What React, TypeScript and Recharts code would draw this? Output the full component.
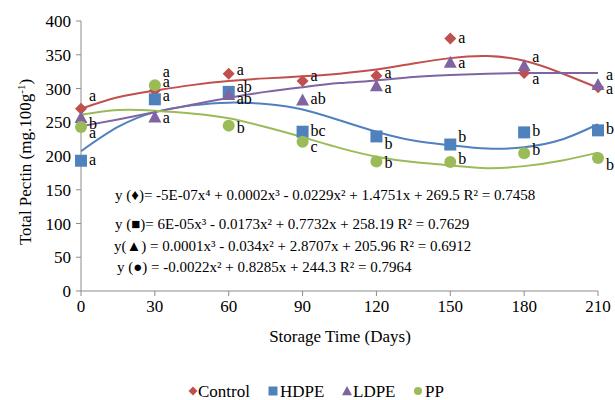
import { ComposedChart, Line, Scatter, XAxis, YAxis } from 'recharts';

// observed means (mg/100g) at each sampling day
const days = [0, 30, 60, 90, 120, 150, 180, 210];
const control = [270, 297, 322, 311, 319, 374, 323, 302];
const hdpe = [193, 284, 295, 236, 229, 217, 235, 238];
const ldpe = [257, 258, 291, 283, 304, 339, 334, 306];
const pp = [243, 305, 245, 221, 192, 191, 204, 197];

// significance letters
const controlSig = ['a', 'a', 'a', 'a', 'a', 'a', 'a', 'a'];
const hdpeSig = ['a', 'a', 'ab', 'bc', 'b', 'b', 'b', 'b'];
const ldpeSig = ['b', 'a', 'ab', 'ab', 'a', 'a', 'a', 'a'];
const ppSig = ['a', 'a', 'b', 'c', 'b', 'b', 'b', 'b'];

// trendline curves
const trendDays = [0, 15, 30, 45, 60, 75, 90, 105, 120, 135, 150, 165, 180, 195, 210];
const controlTrend = [270, 287, 297, 305, 311, 315, 318, 322, 328, 337, 345, 348, 341, 323, 301];
const hdpeTrend = [207, 243, 265, 275, 279, 277, 269, 253, 236, 223, 216, 211, 213, 224, 247];
const ldpeTrend = [244, 254, 265, 276, 286, 295, 302, 308, 312, 317, 320, 322, 323, 323, 323];
const ppTrend = [261, 268, 267, 263, 256, 243, 228, 212, 199, 191, 186, 182, 185, 193, 205];

const xTicks = [0, 30, 60, 90, 120, 150, 180, 210];
const yTicks = [0, 50, 100, 150, 200, 250, 300, 350, 400];

const equations = [
  'y (\u2666)= -5E-07x\u2074 + 0.0002x\u00B3 - 0.0229x\u00B2 + 1.4751x + 269.5  R\u00B2 = 0.7458',
  'y (\u25A0)= 6E-05x\u00B3 - 0.0173x\u00B2 + 0.7732x + 258.19  R\u00B2 = 0.7629',
  'y(\u25B2) = 0.0001x\u00B3 - 0.034x\u00B2 + 2.8707x + 205.96  R\u00B2 = 0.6912',
  'y (\u25CF) = -0.0022x\u00B2 + 0.8285x + 244.3  R\u00B2 = 0.7964',
];

const FONT = 'Liberation Serif';
const RED = '#C0504D';
const BLUE = '#4F81BD';
const PURPLE = '#8064A2';
const GREEN = '#9BBB59';

// how far each letter sits above/below its marker, as placed in the original
const NUDGE: Record<string, number[]> = {
  control: [-12, -18, -3, -4, -2, 0, 7, 3],
  hdpe: [0, -2, -4, 0, 9, -7, 0, 0],
  ldpe: [7, 2, 5, 0, 3, 2, -8, -8],
  pp: [7, -2, 3, 6, 3, -2, -2, 8],
};

const points = (vals: number[], sig: string[]) => vals.map((y, i) => ({ x: days[i], y, sig: sig[i], i }));
const trendRows = trendDays.map((x, i) => ({
  x,
  control: controlTrend[i],
  hdpe: hdpeTrend[i],
  ldpe: ldpeTrend[i],
  pp: ppTrend[i],
}));

function marker(kind: string, cx: number, cy: number, s: number, color: string) {
  if (kind === 'diamond')
    return <polygon points={`${cx},${cy - s} ${cx + s},${cy} ${cx},${cy + s} ${cx - s},${cy}`} fill={color} />;
  if (kind === 'square') return <rect x={cx - s} y={cy - s} width={s * 2} height={s * 2} fill={color} />;
  if (kind === 'triangle')
    return <polygon points={`${cx},${cy - s} ${cx + s},${cy + s * 0.85} ${cx - s},${cy + s * 0.85}`} fill={color} />;
  return <circle cx={cx} cy={cy} r={s} fill={color} />;
}

const makeShape = (kind: string, color: string, size: number, key: string) => (props: any) => {
  const { cx, cy, payload } = props;
  const dy = NUDGE[key][payload.i] ?? 0;
  return (
    <g>
      {marker(kind, cx, cy, size, color)}
      <text x={cx + 8} y={cy + 4 + dy} style={{ fontFamily: FONT, fontSize: 16 }} fill="#000">
        {payload.sig}
      </text>
    </g>
  );
};

const legendItems = [
  { name: 'Control', kind: 'diamond', color: RED, mx: 193, tx: 198, s: 4.5 },
  { name: 'HDPE', kind: 'square', color: BLUE, mx: 273, tx: 280, s: 4.5 },
  { name: 'LDPE', kind: 'triangle', color: PURPLE, mx: 347, tx: 353, s: 5 },
  { name: 'PP', kind: 'circle', color: GREEN, mx: 418, tx: 425, s: 4 },
];

export default function App() {
  return (
    <div style={{ position: 'absolute', left: 0, top: 0, width: 615, height: 400, background: '#fff', fontFamily: FONT }}>
      <ComposedChart
        width={615}
        height={400}
        margin={{ top: 21, right: 17, bottom: 79, left: 0 }}
        style={{ fontFamily: FONT }}
      >
        <XAxis
          type="number"
          dataKey="x"
          domain={[0, 210]}
          ticks={xTicks}
          interval={0}
          height={30}
          tickSize={5}
          stroke="#8c8c8c"
          tick={{ fill: '#000', fontSize: 17, style: { fontFamily: FONT } }}
          tickMargin={4}
        />
        <YAxis
          type="number"
          domain={[0, 400]}
          ticks={yTicks}
          interval={0}
          width={81}
          tickSize={5}
          stroke="#8c8c8c"
          tick={{ fill: '#000', fontSize: 17, style: { fontFamily: FONT } }}
          tickMargin={5}
        />
        <Line data={trendRows} dataKey="control" type="natural" stroke={RED} strokeWidth={2} dot={false} activeDot={false} isAnimationActive={false} />
        <Line data={trendRows} dataKey="hdpe" type="natural" stroke={BLUE} strokeWidth={2} dot={false} activeDot={false} isAnimationActive={false} />
        <Line data={trendRows} dataKey="ldpe" type="natural" stroke={PURPLE} strokeWidth={2} dot={false} activeDot={false} isAnimationActive={false} />
        <Line data={trendRows} dataKey="pp" type="natural" stroke={GREEN} strokeWidth={2} dot={false} activeDot={false} isAnimationActive={false} />
        <Scatter data={points(control, controlSig)} dataKey="y" shape={makeShape('diamond', RED, 6, 'control')} isAnimationActive={false} />
        <Scatter data={points(hdpe, hdpeSig)} dataKey="y" shape={makeShape('square', BLUE, 6, 'hdpe')} isAnimationActive={false} />
        <Scatter data={points(ldpe, ldpeSig)} dataKey="y" shape={makeShape('triangle', PURPLE, 6.5, 'ldpe')} isAnimationActive={false} />
        <Scatter data={points(pp, ppSig)} dataKey="y" shape={makeShape('circle', GREEN, 6, 'pp')} isAnimationActive={false} />
      </ComposedChart>
      <svg width={615} height={400} style={{ position: 'absolute', left: 0, top: 0, pointerEvents: 'none', fontFamily: FONT }}>
        <g style={{ whiteSpace: 'pre', fontFamily: FONT, fontSize: 15 }} fill="#000">
          <text x={115} y={200}>{equations[0]}</text>
          <text x={115} y={229}>{equations[1]}</text>
          <text x={114} y={251}>{equations[2]}</text>
          <text x={117} y={272}>{equations[3]}</text>
        </g>
        <text x={340} y={342} textAnchor="middle" style={{ fontFamily: FONT, fontSize: 17 }} fill="#000">
          Storage Time (Days)
        </text>
        <text
          transform="translate(31,162) rotate(-90)"
          textAnchor="middle"
          style={{ fontFamily: FONT, fontSize: 17 }}
          fill="#000"
        >
          Total Pectin (mg.100g<tspan dy={-6} style={{ fontSize: 11 }}>-1</tspan>
          <tspan dy={6}>)</tspan>
        </text>
        {legendItems.map((it) => (
          <g key={it.name}>
            {marker(it.kind, it.mx, 391, it.s, it.color)}
            <text x={it.tx} y={397} style={{ fontFamily: FONT, fontSize: 17 }} fill="#000">
              {it.name}
            </text>
          </g>
        ))}
      </svg>
    </div>
  );
}
